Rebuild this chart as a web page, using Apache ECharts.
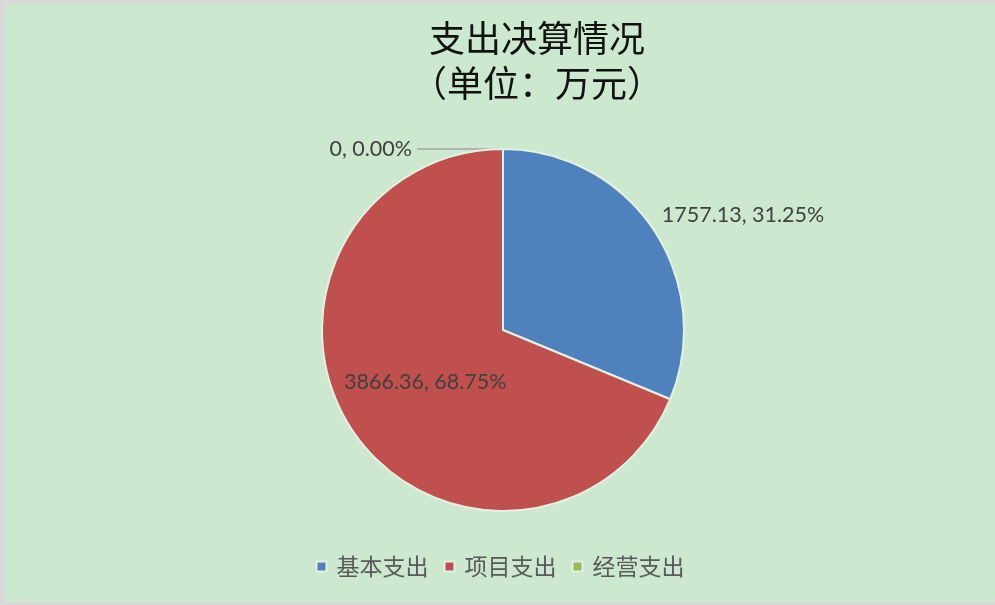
<!DOCTYPE html>
<html>
<head>
<meta charset="utf-8">
<script src="https://cdn.jsdelivr.net/npm/echarts@6/dist/echarts.min.js"></script>
<style>
  html, body { margin: 0; padding: 0; background: #d9d9d9; }
  #chart { position: absolute; left: 5px; top: 4px; width: 990px; height: 598px; background: #cce8cf; }
</style>
</head>
<body>
<div id="chart"></div>
<script>
// 支出决算 数据
var categories = ["基本支出", "项目支出", "经营支出"];
var values = [1757.13, 3866.36, 0];
var percents = ["31.25%", "68.75%", "0.00%"];
var colors = ["#4f81bd", "#c0504d", "#9bbb59"];

// 每个扇区的标签摆放（仿照原图）
var labelSetting = [
  { position: "outside", lineShow: false, length: 4, length2: 0, dy: -12 },
  { position: "inside", dy: 0 },
  { position: "outside", lineShow: true, length: 0, length2: 86, dy: 0 }
];

var seriesData = categories.map(function (name, i) {
  var s = labelSetting[i];
  var item = {
    name: name,
    value: values[i],
    itemStyle: { color: colors[i] },
    label: { position: s.position }
  };
  if (s.position === "outside") {
    item.labelLine = {
      show: s.lineShow,
      length: s.length,
      length2: s.length2,
      lineStyle: { color: "#a6a6a6", width: 1.5 }
    };
  }
  return item;
});

var chart = echarts.init(document.getElementById("chart"));
chart.setOption({
  animation: false,
  title: {
    text: "支出决算情况\n（单位：万元）",
    left: 527,
    top: 7,
    textAlign: "center",
    textStyle: {
      fontFamily: "Noto Sans CJK SC",
      fontWeight: "normal",
      fontSize: 36,
      lineHeight: 45,
      color: "#111"
    }
  },
  legend: {
    bottom: 19,
    left: "center",
    itemWidth: 10,
    itemHeight: 10,
    itemGap: 15,
    icon: "rect",
    data: categories,
    textStyle: {
      fontFamily: "Noto Sans CJK SC",
      fontSize: 23,
      color: "#595959",
      padding: [0, 0, 0, 5]
    }
  },
  series: [
    {
      type: "pie",
      center: [498, 326],
      radius: [0, 181],
      startAngle: 90,
      clockwise: true,
      avoidLabelOverlap: false,
      minShowLabelAngle: -1,
      itemStyle: { borderColor: "#e3f1e4", borderWidth: 2 },
      label: {
        formatter: function (p) {
          return p.value + ", " + percents[p.dataIndex];
        },
        fontFamily: "Lato",
        fontSize: 21.5,
        color: "#404040"
      },
      labelLayout: function (params) {
        return { dy: labelSetting[params.dataIndex].dy };
      },
      emphasis: { disabled: true },
      data: seriesData
    }
  ]
});
</script>
</body>
</html>
